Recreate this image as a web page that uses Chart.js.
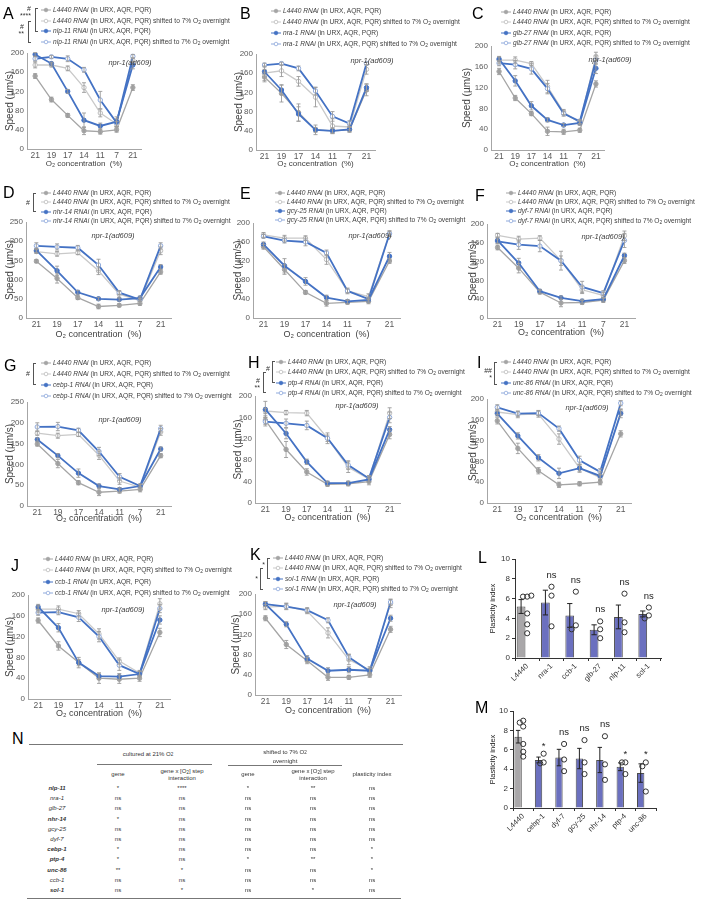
<!DOCTYPE html>
<html><head><meta charset="utf-8">
<script src="https://cdn.jsdelivr.net/npm/chart.js@4.4.1/dist/chart.umd.min.js"></script>
<style>
body{margin:0;width:704px;height:906px;position:relative;background:#fff;font-family:"Liberation Sans",Arial,sans-serif;overflow:hidden}
.plab{position:absolute;font-size:16px;line-height:16px;color:#000}
.leg{position:absolute;font-size:6.6px;line-height:8px;height:8px;color:#404040;white-space:nowrap}
.leg svg{position:absolute;left:0;top:0}
.leg span{position:absolute;left:12px;top:0}
sub{font-size:0.75em;vertical-align:-0.2em;line-height:0}
.strain{position:absolute;font-size:7.5px;font-style:italic;color:#404040;white-space:nowrap;transform:translate(-50%,-50%)}
.sig{position:absolute;font-size:7px;line-height:7px;color:#333;text-align:right;white-space:nowrap}
.br{position:absolute;border:1px solid #555;border-right:none;width:3px;box-sizing:border-box}
.tc{position:absolute;font-size:6px;line-height:7px;color:#333;white-space:nowrap;transform:translate(-50%,-50%);text-align:center}
.rule{position:absolute;height:0;border-top:1px solid #777}
</style></head><body>
<script>
// ---------------- DATA ----------------
const o2Steps = ['21','19','17','14','11','7','21'];

// A: nlp-11
const aCtrl = [152,103,70,38,36,40,128];
const aCtrlShift = [175,175,168,128,75,52,185];
const aGene = [197,178,120,60,48,57,175];
const aGeneShift = [188,192,188,165,102,55,193];
const aCtrlErr = [5,5,4,8,5,5,6];
const aCtrlShiftErr = [6,4,5,10,8,5,5];
const aGeneErr = [4,3,4,15,6,10,8];
const aGeneShiftErr = [5,3,6,5,18,8,4];
// B: nra-1
const bCtrl = [152,118,78,42,40,42,125];
const bCtrlShift = [160,165,143,110,50,48,168];
const bGene = [163,125,75,42,40,43,130];
const bGeneShift = [177,180,170,123,70,55,180];
const bCtrlErr = [10,18,18,10,6,5,12];
const bCtrlShiftErr = [15,12,10,20,15,6,10];
const bGeneErr = [5,10,15,5,5,5,8];
const bGeneShiftErr = [4,3,5,8,10,6,3];
// C: glb-27
const cCtrl = [151,100,70,36,35,38,127];
const cCtrlShift = [173,173,166,122,73,52,180];
const cGene = [175,133,85,58,48,52,157];
const cGeneShift = [167,164,156,118,70,55,173];
const cCtrlErr = [6,5,4,8,5,4,6];
const cCtrlShiftErr = [6,6,4,12,5,4,8];
const cGeneErr = [5,10,8,4,3,4,10];
const cGeneShiftErr = [5,8,10,10,5,4,8];
// D: nhr-14
const dCtrl = [148,103,53,30,33,38,120];
const dCtrlShift = [173,167,170,123,62,45,175];
const dGene = [176,123,67,50,48,52,133];
const dGeneShift = [188,185,183,138,66,48,188];
const dCtrlErr = [4,12,5,6,4,5,6];
const dCtrlShiftErr = [5,6,5,10,8,6,10];
const dGeneErr = [5,12,5,4,4,5,6];
const dGeneShiftErr = [8,8,6,15,5,4,8];
// E: gcy-25
const eCtrl = [150,102,54,31,33,35,120];
const eCtrlShift = [175,168,168,123,57,45,178];
const eGene = [155,110,77,43,35,38,130];
const eGeneShift = [172,163,160,137,57,40,177];
const eCtrlErr = [5,10,4,6,4,5,5];
const eCtrlShiftErr = [5,6,5,10,6,6,6];
const eGeneErr = [5,15,8,5,4,4,8];
const eGeneShiftErr = [4,5,8,6,4,4,5];
// F: dyf-7
const fCtrl = [150,106,55,32,33,38,122];
const fCtrlShift = [176,168,170,122,60,48,175];
const fGene = [165,117,57,43,36,40,133];
const fGeneShift = [163,156,153,122,66,53,165];
const fCtrlErr = [5,10,4,8,4,5,6];
const fCtrlShiftErr = [4,6,5,10,8,6,10];
const fGeneErr = [6,10,4,4,4,4,5];
const fGeneShiftErr = [5,10,12,20,12,5,15];
// G: cebp-1
const gCtrl = [149,102,56,33,36,40,121];
const gCtrlShift = [175,169,172,122,60,45,178];
const gGene = [160,121,79,48,40,48,137];
const gGeneShift = [190,191,182,131,70,48,186];
const gCtrlErr = [5,10,5,8,5,6,5];
const gCtrlShiftErr = [5,6,5,10,8,6,8];
const gGeneErr = [4,5,10,5,4,4,5];
const gGeneShiftErr = [10,10,5,10,8,5,8];
// H: ptp-4
const hCtrl = [155,100,58,35,36,40,128];
const hCtrlShift = [172,169,168,121,67,45,168];
const hGene = [175,130,77,37,37,44,137];
const hGeneShift = [152,149,145,121,71,46,160];
const hCtrlErr = [8,15,6,4,4,6,8];
const hCtrlShiftErr = [5,4,5,10,10,6,10];
const hGeneErr = [15,10,5,4,4,5,6];
const hGeneShiftErr = [8,8,8,6,8,5,10];
// I: unc-86
const iCtrl = [158,105,62,35,37,40,133];
const iCtrlShift = [175,170,171,123,67,49,175];
const iGene = [172,129,87,57,67,52,172];
const iGeneShift = [184,172,173,143,82,60,192];
const iCtrlErr = [6,10,6,5,4,5,6];
const iCtrlShiftErr = [5,6,6,10,6,6,6];
const iGeneErr = [5,6,6,10,8,8,8];
const iGeneShiftErr = [5,5,5,5,8,6,5];
// J: ccb-1
const jCtrl = [151,102,70,40,38,40,128];
const jCtrlShift = [173,173,164,125,73,50,183];
const jGene = [177,137,70,44,43,48,152];
const jGeneShift = [166,167,157,120,65,48,174];
const jCtrlErr = [5,8,10,10,8,6,8];
const jCtrlShiftErr = [6,6,6,10,6,5,10];
const jGeneErr = [5,8,6,6,6,5,8];
const jGeneShiftErr = [5,5,8,10,10,5,8];
// K: sol-1
const kCtrl = [152,100,68,35,35,40,130];
const kCtrlShift = [174,176,166,123,70,50,181];
const kGene = [180,140,72,48,50,48,152];
const kGeneShift = [180,175,168,148,75,47,184];
const kCtrlErr = [5,8,6,6,4,5,6];
const kCtrlShiftErr = [5,6,5,10,10,6,8];
const kGeneErr = [5,5,6,6,6,5,6];
const kGeneShiftErr = [5,6,5,5,6,5,6];

// L: plasticity index
const lGenes = ['L4440','nra-1','ccb-1','glb-27','nlp-11','sol-1'];
const lMeans = [5.2,5.6,4.3,2.85,4.15,4.45];
const lSem = [0.7,1.25,1.2,0.5,1.2,0.3];
const lPoints = [[6.2,6.2,6.3,4.5,3.4,2.5],[7.2,6.3,3.2],[6.7,3.3,2.9],[3.7,2.9,2.0],[6.5,3.6,2.6],[5.1,4.3,4.0]];
const lSig = ['','ns','ns','ns','ns','ns'];
// M: plasticity index
const mGenes = ['L4440','cebp-1','dyf-7','gcy-25','nhr-14','ptp-4','unc-86'];
const mMeans = [7.35,4.95,5.2,5.1,4.95,4.25,3.6];
const mSem = [0.65,0.3,0.85,1.05,1.3,0.4,0.95];
const mPoints = [[9.0,8.8,8.4,6.6,5.8,5.3],[5.6,4.7,4.6],[6.6,5.0,3.8],[7.0,4.7,3.5],[7.4,4.5,2.9],[4.7,4.7,3.5],[4.7,4.3,1.7]];
const mSig = ['','*','ns','ns','ns','*','*'];

// N: table
const tableGenes = ['nlp-11','nra-1','glb-27','nhr-14','gcy-25','dyf-7','cebp-1','ptp-4','unc-86','ccb-1','sol-1'];
const tableBold = [true,false,false,true,false,false,true,true,true,false,true];
const geneEffect21 = ['*','ns','ns','*','ns','ns','*','*','**','ns','ns'];
const interaction21 = ['****','ns','ns','ns','ns','ns','ns','ns','*','ns','*'];
const geneEffect7 = ['*','ns','ns','ns','ns','ns','ns','*','ns','ns','ns'];
const interaction7 = ['**','ns','ns','ns','ns','ns','ns','**','ns','ns','*'];
const plasticitySig = ['ns','ns','ns','ns','ns','ns','*','*','*','ns','ns'];

// ---------------- LAYOUT ----------------
const panels = [
 {id:'A',gene:'nlp-11',s:[aCtrl,aCtrlShift,aGene,aGeneShift],e:[aCtrlErr,aCtrlShiftErr,aGeneErr,aGeneShiftErr],yMax:200,yStep:20,
  g:{L:27,R:143,T:52,B:149,cl:0,cb:173},xt:8,lab:[3,8],leg:{mx:41,y0:10,dy:10.7},strain:[130,62],
  br:[[35,8,32],[28,21,43]],bl:[[31,5,'#<br>****'],[24,23,'#<br>**']]},
 {id:'B',gene:'nra-1',s:[bCtrl,bCtrlShift,bGene,bGeneShift],e:[bCtrlErr,bCtrlShiftErr,bGeneErr,bGeneShiftErr],yMax:200,yStep:20,
  g:{L:256,R:377,T:53,B:150,cl:229,cb:173},xt:8,lab:[240,8],leg:{mx:271,y0:10.5,dy:11},strain:[372,60],br:[],bl:[]},
 {id:'C',gene:'glb-27',s:[cCtrl,cCtrlShift,cGene,cGeneShift],e:[cCtrlErr,cCtrlShiftErr,cGeneErr,cGeneShiftErr],yMax:200,yStep:20,
  g:{L:491,R:606,T:45,B:150,cl:457,cb:173},xt:8,lab:[472,8],leg:{mx:501,y0:12,dy:10.4},strain:[610,59],br:[],bl:[]},
 {id:'D',gene:'nhr-14',s:[dCtrl,dCtrlShift,dGene,dGeneShift],e:[dCtrlErr,dCtrlShiftErr,dGeneErr,dGeneShiftErr],yMax:250,yStep:50,
  g:{L:26,R:173,T:221,B:318,cl:0,cb:344},xt:9,lab:[3,187],leg:{mx:41,y0:193,dy:9.4},strain:[113,235],
  br:[[33,193,212]],bl:[[30,199,'#']]},
 {id:'E',gene:'gcy-25',s:[eCtrl,eCtrlShift,eGene,eGeneShift],e:[eCtrlErr,eCtrlShiftErr,eGeneErr,eGeneShiftErr],yMax:200,yStep:20,
  g:{L:253,R:402,T:222,B:318,cl:228,cb:344},xt:9,lab:[240,188],leg:{mx:275,y0:193,dy:9},strain:[370,235],br:[],bl:[]},
 {id:'F',gene:'dyf-7',s:[fCtrl,fCtrlShift,fGene,fGeneShift],e:[fCtrlErr,fCtrlShiftErr,fGeneErr,fGeneShiftErr],yMax:200,yStep:20,
  g:{L:487,R:637,T:223,B:318,cl:463,cb:342},xt:9,lab:[475,190],leg:{mx:506,y0:193,dy:9.2},strain:[603,236],br:[],bl:[]},
 {id:'G',gene:'cebp-1',s:[gCtrl,gCtrlShift,gGene,gGeneShift],e:[gCtrlErr,gCtrlShiftErr,gGeneErr,gGeneShiftErr],yMax:250,yStep:50,
  g:{L:27,R:173,T:401,B:506,cl:0,cb:528},xt:9,lab:[4,360],leg:{mx:41,y0:363,dy:11},strain:[120,419],
  br:[[33,363,385]],bl:[[30,370,'#']]},
 {id:'H',gene:'ptp-4',s:[hCtrl,hCtrlShift,hGene,hGeneShift],e:[hCtrlErr,hCtrlShiftErr,hGeneErr,hGeneShiftErr],yMax:200,yStep:20,
  g:{L:255,R:402,T:395,B:503,cl:228,cb:527},xt:9,lab:[248,357],leg:{mx:276,y0:362,dy:10.3},strain:[357,405],
  br:[[272,361,383],[263,372,393]],bl:[[270,365,'#'],[260,377,'#<br>**']]},
 {id:'I',gene:'unc-86',s:[iCtrl,iCtrlShift,iGene,iGeneShift],e:[iCtrlErr,iCtrlShiftErr,iGeneErr,iGeneShiftErr],yMax:200,yStep:20,
  g:{L:487,R:633,T:398,B:503,cl:463,cb:527},xt:9,lab:[477,357],leg:{mx:501,y0:362,dy:10.3},strain:[587,407],
  br:[[494,362,385]],bl:[[492,367,'##<br>*']]},
 {id:'J',gene:'ccb-1',s:[jCtrl,jCtrlShift,jGene,jGeneShift],e:[jCtrlErr,jCtrlShiftErr,jGeneErr,jGeneShiftErr],yMax:200,yStep:20,
  g:{L:28,R:172,T:594,B:699,cl:0,cb:723},xt:9,lab:[11,560],leg:{mx:43,y0:559,dy:11.3},strain:[123,609],br:[],bl:[]},
 {id:'K',gene:'sol-1',s:[kCtrl,kCtrlShift,kGene,kGeneShift],e:[kCtrlErr,kCtrlShiftErr,kGeneErr,kGeneShiftErr],yMax:200,yStep:20,
  g:{L:255,R:403,T:593,B:695,cl:226,cb:720},xt:9,lab:[250,549],leg:{mx:273,y0:558,dy:10.3},strain:[355,604],
  br:[[267,558,579],[260,568,590]],bl:[[265,561,'*'],[258,575,'*']]}
];

const GRAY='#a5a5a5', LGRAY='#c9c9c9', BLUE='#4472c4', LBLUE='#8faadc';
Chart.defaults.font.family = "'Liberation Sans', Arial, sans-serif";

function addEl(tag, cls, css, html){const d=document.createElement(tag); if(cls) d.className=cls; d.style.cssText=css; if(html!==undefined) d.innerHTML=html; document.body.appendChild(d); return d;}
function addCanvas(x,y,w,h){const c=document.createElement('canvas'); c.width=w; c.height=h; c.style.cssText=`position:absolute;left:${x}px;top:${y}px;width:${w}px;height:${h}px`; document.body.appendChild(c); return c;}

const errorBarPlugin = {
  id:'errbars',
  afterDatasetsDraw(chart){
    const ctx=chart.ctx, ys=chart.scales.y;
    chart.data.datasets.forEach((ds,di)=>{
      if(!ds.errors) return;
      const meta=chart.getDatasetMeta(di);
      ctx.save(); ctx.strokeStyle='#9b9b9b'; ctx.lineWidth=0.9;
      meta.data.forEach((pt,i)=>{
        const v=ds.data[i], e=ds.errors[i];
        const y1=ys.getPixelForValue(v+e), y2=ys.getPixelForValue(v-e), x=pt.x;
        ctx.beginPath(); ctx.moveTo(x,y1); ctx.lineTo(x,y2);
        ctx.moveTo(x-2,y1); ctx.lineTo(x+2,y1); ctx.moveTo(x-2,y2); ctx.lineTo(x+2,y2); ctx.stroke();
      });
      ctx.restore();
    });
  }
};

function legendRows(p){
  const rows=[
    {line:GRAY, fill:GRAY, stroke:GRAY, t:'<i>L4440 RNAi</i> (in URX, AQR, PQR)'},
    {line:LGRAY, fill:'#fff', stroke:'#bdbdbd', t:'<i>L4440 RNAi</i> (in URX, AQR, PQR) shifted to 7% O<sub>2</sub> overnight'},
    {line:BLUE, fill:BLUE, stroke:BLUE, t:`<i>${p.gene} RNAi</i> (in URX, AQR, PQR)`},
    {line:LBLUE, fill:'#fff', stroke:LBLUE, t:`<i>${p.gene} RNAi</i> (in URX, AQR, PQR) shifted to 7% O<sub>2</sub> overnight`}
  ];
  rows.forEach((r,i)=>{
    const y=p.leg.y0+i*p.leg.dy;
    addEl('div','leg',`left:${p.leg.mx}px;top:${(y-4).toFixed(1)}px`,
      `<svg width="10" height="8"><line x1="0" y1="4" x2="10" y2="4" stroke="${r.line}" stroke-width="1"/><circle cx="5" cy="4" r="1.8" fill="${r.fill}" stroke="${r.stroke}" stroke-width="0.8"/></svg><span>${r.t}</span>`);
  });
  p.br.forEach(b=>addEl('div','br',`left:${b[0]}px;top:${b[1]}px;height:${b[2]-b[1]}px`));
  p.bl.forEach(b=>addEl('div','sig',`right:${704-b[0]}px;top:${b[1]}px`,b[2]));
}

function makeLine(p){
  const g=p.g, top=g.T-6, w=g.R+3-g.cl, h=g.cb-top;
  const cv=addCanvas(g.cl,top,w,h);
  const styles=[
    {borderColor:GRAY,pointBackgroundColor:GRAY,pointBorderColor:GRAY,borderWidth:1.3,order:3},
    {borderColor:LGRAY,pointBackgroundColor:'#fff',pointBorderColor:'#bdbdbd',borderWidth:1.3,order:2},
    {borderColor:BLUE,pointBackgroundColor:BLUE,pointBorderColor:BLUE,borderWidth:1.8,order:0},
    {borderColor:BLUE,pointBackgroundColor:'#fff',pointBorderColor:LBLUE,borderWidth:1.8,order:1}
  ];
  const datasets=p.s.map((d,i)=>Object.assign({data:d,errors:p.e[i],pointRadius:2.2,pointBorderWidth:1,tension:0,fill:false},styles[i]));
  new Chart(cv,{type:'line',data:{labels:o2Steps,datasets},
    options:{responsive:false,animation:false,events:[],
      layout:{padding:{top:6,right:3,left:0,bottom:0}},
      plugins:{legend:{display:false},tooltip:{enabled:false}},
      scales:{
        x:{offset:true,grid:{display:false,drawTicks:false},border:{display:true,color:'#a6a6a6'},
          ticks:{autoSkip:false,maxRotation:0,minRotation:0,padding:2,color:'#595959',font:{size:8.5}},
          title:{display:true,text:'O\u2082 concentration  (%)',color:'#404040',font:{size:p.xt},padding:{top:0,bottom:4}},
          afterFit(s){s.height=g.cb-g.B;}},
        y:{min:0,max:p.yMax,grid:{display:false,drawTicks:false},border:{display:true,color:'#a6a6a6'},
          ticks:{stepSize:p.yStep,padding:3,color:'#595959',font:{size:8,lineHeight:1}},
          title:{display:true,text:'Speed (\u00b5m/s)',color:'#404040',font:{size:10},padding:{top:4,bottom:0}},
          afterFit(s){s.width=g.L-g.cl;}}
      }},
    plugins:[errorBarPlugin]});
  addEl('div','strain',`left:${p.strain[0]}px;top:${p.strain[1]}px`,'npr-1(ad609)');
  addEl('div','plab',`left:${p.lab[0]}px;top:${p.lab[1]-2}px`,p.id);
  legendRows(p);
}

// bar charts
const barErrPlugin={
  id:'barerr',
  afterDatasetDraw(chart,args){
    const ds=chart.data.datasets[args.index];
    if(!ds.sem) return;
    const ctx=chart.ctx, ys=chart.scales.y, meta=args.meta;
    ctx.save(); ctx.strokeStyle='#222'; ctx.lineWidth=1;
    meta.data.forEach((bar,i)=>{
      const x=bar.x, y1=ys.getPixelForValue(ds.data[i]+ds.sem[i]), y2=ys.getPixelForValue(ds.data[i]-ds.sem[i]), cw=bar.width*0.3;
      ctx.beginPath(); ctx.moveTo(x,y1); ctx.lineTo(x,y2); ctx.moveTo(x-cw,y1); ctx.lineTo(x+cw,y1); ctx.moveTo(x-cw,y2); ctx.lineTo(x+cw,y2); ctx.stroke();
    });
    ctx.restore();
  },
  afterDraw(chart){
    const ctx=chart.ctx, xs=chart.scales.x, ys=chart.scales.y, o=chart.options.plugins.barerr;
    ctx.save(); ctx.fillStyle='#222'; ctx.font="9.5px 'Liberation Sans', Arial"; ctx.textAlign='center'; ctx.textBaseline='alphabetic';
    o.sig.forEach((s,i)=>{
      if(!s) return;
      const top=Math.max(o.means[i]+o.sem[i], ...o.points[i]);
      const yp=ys.getPixelForValue(top);
      ctx.fillText(s, xs.getPixelForValue(i), yp-(s==='ns'?9:5));
    });
    ctx.restore();
  }
};

function jitter(vals){
  const offs=[0,-0.17,0.17,-0.34,0.34];
  const placed=[];
  return vals.map(v=>{
    const near=placed.filter(p=>Math.abs(p.v-v)<0.45).map(p=>p.o);
    const o=offs.find(k=>!near.includes(k)) ?? 0;
    placed.push({v,o}); return o;
  });
}

function makeBar(opt){
  const g=opt.g, top=g.T-9, w=g.R+4-g.cl, h=g.cb-top;
  const cv=addCanvas(g.cl,top,w,h);
  const n=opt.genes.length;
  const pts=[];
  opt.points.forEach((arr,i)=>{const j=jitter(arr); arr.forEach((v,k)=>pts.push({x:i+j[k],y:v}));});
  new Chart(cv,{type:'bar',
    data:{labels:opt.genes,datasets:[
      {type:'bar',data:opt.means,sem:opt.sem,backgroundColor:opt.genes.map(l=>l==='L4440'?'#a9a7a9':'#6b70bf'),borderColor:'#4d4d4d',borderWidth:1,barPercentage:0.72,categoryPercentage:1,order:2},
      {type:'scatter',xAxisID:'xs',data:pts,pointRadius:2.6,pointBorderWidth:1,pointBorderColor:'#333',pointBackgroundColor:'rgba(0,0,0,0)',showLine:false,order:1}
    ]},
    options:{responsive:false,animation:false,events:[],
      layout:{padding:{top:9,right:4,left:0,bottom:0}},
      plugins:{legend:{display:false},tooltip:{enabled:false},barerr:{sig:opt.sig,means:opt.means,sem:opt.sem,points:opt.points}},
      scales:{
        x:{offset:true,grid:{display:true,drawOnChartArea:false,drawTicks:true,tickLength:3,color:'#333'},border:{display:true,color:'#333',width:1},
          ticks:{autoSkip:false,minRotation:45,maxRotation:45,padding:1,color:'#333',font:{size:7.5}},
          afterFit(s){s.height=g.cb-g.B;}},
        xs:{type:'linear',display:false,offset:false,grid:{offset:false},bounds:'data',min:-0.5,max:n-0.5},
        y:{min:0,max:10,grid:{display:true,drawOnChartArea:false,drawTicks:true,tickLength:3,color:'#333'},border:{display:true,color:'#333',width:1},
          ticks:{stepSize:2,padding:2,color:'#333',font:{size:8,lineHeight:1}},
          title:{display:true,text:'Plasticity index',color:'#222',font:{size:7.5},padding:{top:8.5,bottom:0}},
          afterFit(s){s.width=g.L-g.cl;}}
      }},
    plugins:[barErrPlugin]});
  addEl('div','plab',`left:${opt.lab[0]}px;top:${opt.lab[1]-2}px`,opt.id);
}

panels.forEach(makeLine);
makeBar({id:'L',genes:lGenes,means:lMeans,sem:lSem,points:lPoints,sig:lSig,g:{L:515,R:662,T:559,B:658,cl:480,cb:690},lab:[478,552]});
makeBar({id:'M',genes:mGenes,means:mMeans,sem:mSem,points:mPoints,sig:mSig,g:{L:513,R:657,T:711,B:808,cl:480,cb:840},lab:[475,702]});

// table N
addEl('div','plab','left:12px;top:731px','N');
addEl('div','rule','left:29px;top:744px;width:374px');
addEl('div','rule','left:97px;top:764px;width:115px');
addEl('div','rule','left:228px;top:765px;width:114px');
addEl('div','rule','left:27px;top:898px;width:374px');
addEl('div','tc','left:148px;top:754px','cultured at 21% O<sub>2</sub>');
addEl('div','tc','left:285px;top:752px','shifted to 7% O<sub>2</sub>');
addEl('div','tc','left:285px;top:761px','overnight');
const colX=[118,182,248,313,372];
addEl('div','tc',`left:${colX[0]}px;top:774px`,'gene');
addEl('div','tc',`left:${colX[1]}px;top:775px`,'gene x [O<sub>2</sub>] step<br>interaction');
addEl('div','tc',`left:${colX[2]}px;top:774px`,'gene');
addEl('div','tc',`left:${colX[3]}px;top:775px`,'gene x [O<sub>2</sub>] step<br>interaction');
addEl('div','tc',`left:${colX[4]}px;top:774px`,'plasticity index');
const cols=[geneEffect21,interaction21,geneEffect7,interaction7,plasticitySig];
tableGenes.forEach((gn,r)=>{
  const y=788+r*10.2;
  addEl('div','tc',`left:57px;top:${y}px;font-style:italic;font-weight:${tableBold[r]?'bold':'normal'}`,gn);
  cols.forEach((c,k)=>addEl('div','tc',`left:${colX[k]}px;top:${y}px`,c[r]));
});
</script>
</body></html>
